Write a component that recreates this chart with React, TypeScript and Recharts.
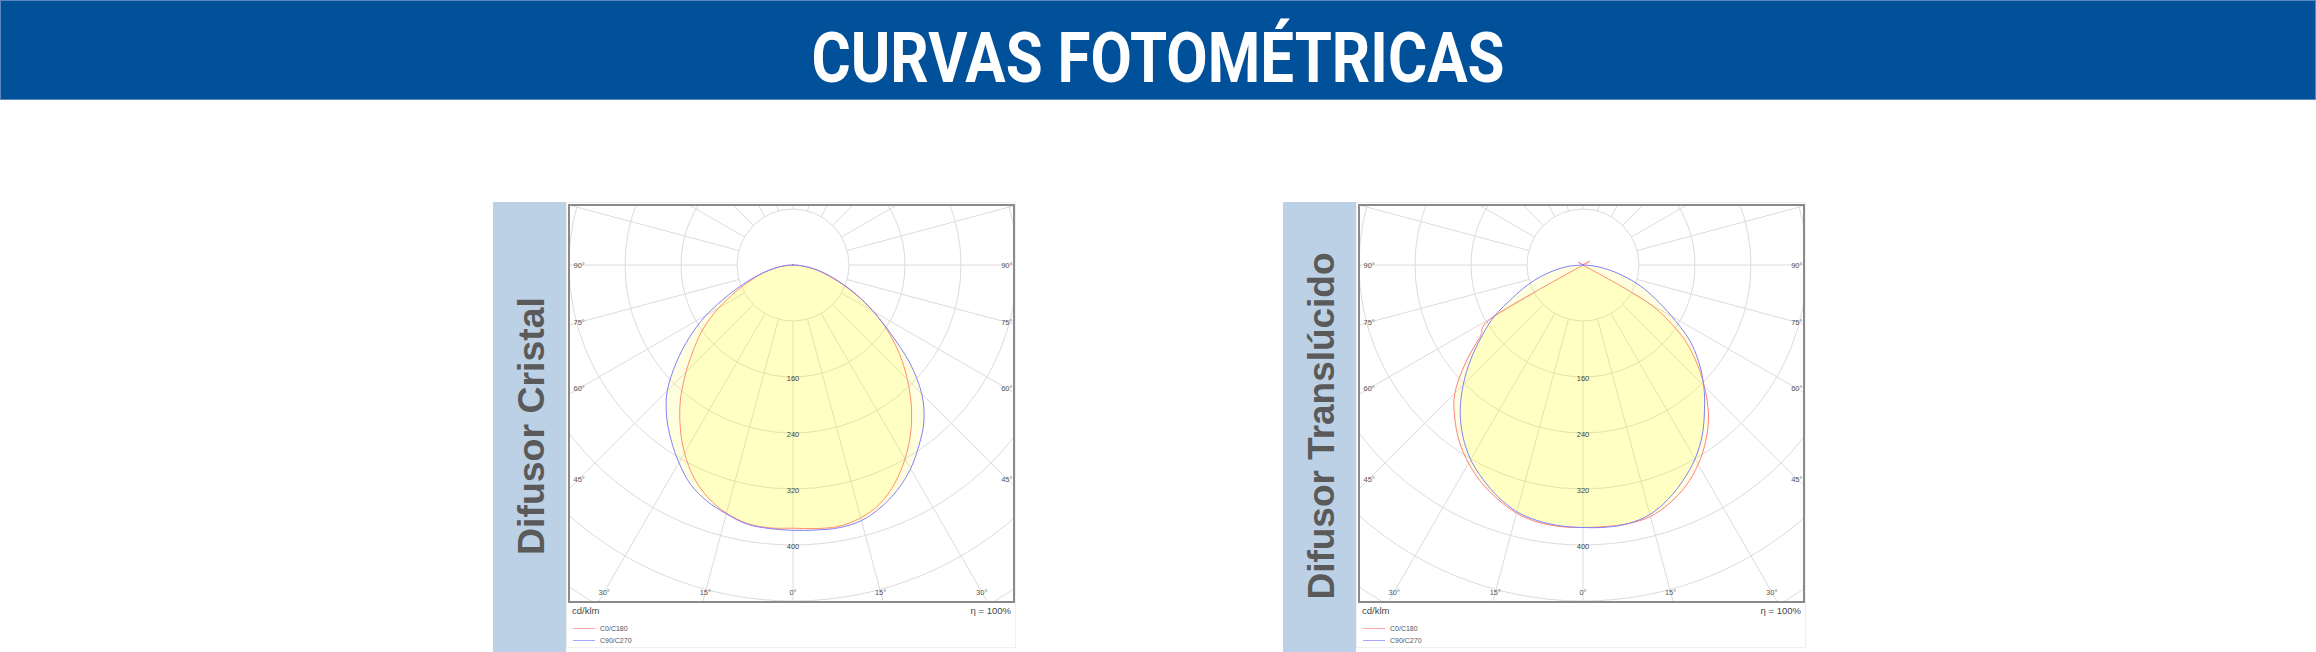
import { RadarChart, Radar, PolarGrid, PolarAngleAxis, PolarRadiusAxis } from "recharts";

// luminous intensity (cd/klm) per gamma angle, 5° steps from 0° (nadir) to 180°
const GAMMA = [
  0, 5, 10, 15, 20, 25, 30, 35, 40, 45, 50, 55, 60, 65, 70, 75, 80, 85, 90,
  95, 100, 105, 110, 115, 120, 125, 130, 135, 140, 145, 150, 155, 160, 165, 170, 175, 180,
];

// Difusor Cristal
const CRISTAL_C0 = [
  376, 378, 379, 374, 363, 344, 320, 293, 263, 231, 199, 166, 133, 98, 68, 45, 27, 12, 0,
  0, 0, 0, 0, 0, 0, 0, 0, 0, 0, 0, 0, 0, 0, 0, 0, 0, 0,
];
const CRISTAL_C180 = [
  376, 377, 375, 367, 354, 335, 310, 281, 250, 216, 184, 155, 122, 90, 64, 45, 27, 12, 0,
  0, 0, 0, 0, 0, 0, 0, 0, 0, 0, 0, 0, 0, 0, 0, 0, 0, 0,
];
const CRISTAL_C90 = [
  379, 380, 381, 378, 368, 354, 336, 314, 291, 260, 218, 170, 132, 100, 71, 49, 30, 13, 0,
  0, 0, 0, 0, 0, 0, 0, 0, 0, 0, 0, 0, 0, 0, 0, 0, 0, 0,
];
const CRISTAL_C270 = [
  379, 378, 376, 368, 359, 346, 326, 304, 281, 254, 218, 181, 143, 102, 70, 45, 27, 12, 0,
  0, 0, 0, 0, 0, 0, 0, 0, 0, 0, 0, 0, 0, 0, 0, 0, 0, 0,
];

// Difusor Translúcido
const TRANS_C0 = [
  375, 375, 375, 372, 362, 348, 329, 306, 279, 245, 209, 167, 105, 0, 0, 0, 0, 0, 0,
  0, 0, 0, 0, 0, 0, 0, 0, 0, 0, 0, 0, 0, 0, 0, 0, 0, 0,
];
const TRANS_C180 = [
  375, 375, 373, 367, 356, 343, 327, 308, 285, 259, 220, 180, 147, 0, 0, 0, 0, 0, 0,
  0, 0, 0, 0, 0, 0, 0, 0, 0, 0, 0, 0, 0, 0, 0, 0, 0, 0,
];
const TRANS_C90 = [
  375, 376, 375, 369, 356, 339, 320, 297, 270, 244, 216, 185, 146, 114, 87, 59, 35, 14, 0,
  0, 0, 0, 0, 0, 0, 0, 0, 0, 0, 0, 0, 0, 0, 0, 0, 0, 0,
];
const TRANS_C270 = [
  375, 374, 371, 365, 353, 338, 321, 299, 273, 242, 209, 176, 146, 111, 85, 61, 39, 20, 0,
  0, 0, 0, 0, 0, 0, 0, 0, 0, 0, 0, 0, 0, 0, 0, 0, 0, 0,
];

// grid: spokes every 15°, circles every 80 cd/klm
const GRID_ANGLES = [0, 15, 30, 45, 60, 75, 90, 105, 120, 135, 150, 165, 180, 195, 210, 225, 240, 255, 270, 285, 300, 315, 330, 345];
const GRID_RADII = [80, 160, 240, 320, 400, 480, 560, 640];
const RADIUS_LABELS = [160, 240, 320, 400];

const SERIES = [
  { key: "red", name: "C0/C180", color: "#ff7f7f" },
  { key: "blue", name: "C90/C270", color: "#8080ff" },
];

const PX_PER_CD = 0.7;
const R_MAX = 640;
const SIZE = 1000;
const CX = 500;
const CY = 500;
const FONT = '"Liberation Sans", Arial, sans-serif';

const GRID_ROWS = GRID_ANGLES.map((a) => ({ pos: a }));

// rows run clockwise on screen: from nadir up the left half (C180 / C270),
// then from the top back down the right half (C0 / C90)
const buildRows = (c0: number[], c180: number[], c90: number[], c270: number[]) => {
  const left = GAMMA.map((g, i) => ({ pos: g, red: c180[i], blue: c270[i] }));
  const right = [];
  for (let i = GAMMA.length - 2; i >= 1; i--) {
    right.push({ pos: 360 - GAMMA[i], red: c0[i], blue: c90[i] });
  }
  return [...left, ...right];
};

// closed catmull-rom through the radar points, so the curve is drawn smooth
const SmoothRadarShape = (props: any) => {
  const pts: Array<{ x: number; y: number }> = props.points || [];
  const n = pts.length;
  if (!n) return <g />;
  const p = (i: number) => pts[(i + n) % n];
  let d = `M${p(0).x},${p(0).y}`;
  for (let i = 0; i < n; i++) {
    const p0 = p(i - 1);
    const p1 = p(i);
    const p2 = p(i + 1);
    const p3 = p(i + 2);
    const c1x = p1.x + (p2.x - p0.x) / 6;
    const c1y = p1.y + (p2.y - p0.y) / 6;
    const c2x = p2.x - (p3.x - p1.x) / 6;
    const c2y = p2.y - (p3.y - p1.y) / 6;
    d += `C${c1x},${c1y},${c2x},${c2y},${p2.x},${p2.y}`;
  }
  d += "Z";
  return (
    <path
      d={d}
      stroke={props.stroke}
      strokeWidth={props.strokeWidth}
      fill={props.fill}
      fillOpacity={props.fillOpacity}
      strokeLinejoin="round"
    />
  );
};

const AngleTick = (props: any) => {
  const a = Number(props.payload?.value);
  const gamma = a <= 180 ? a : 360 - a;
  if (gamma > 90) return <g />;
  const side = a === 0 ? 0 : a < 180 ? -1 : 1;
  const rad = (gamma * Math.PI) / 180;
  let x: number;
  let y: number;
  let anchor: "start" | "middle" | "end";
  if (gamma <= 30) {
    x = CX + side * 327 * Math.tan(rad);
    y = CY + 327;
    anchor = "middle";
  } else {
    y = CY + (gamma === 90 ? 0 : 214 / Math.tan(rad));
    x = CX + side * 219.5;
    anchor = side > 0 ? "end" : "start";
  }
  return (
    <text x={x} y={y} textAnchor={anchor} dominantBaseline="central" fontSize={7.5} fill="#555" fontFamily={FONT}>
      {`${gamma}°`}
    </text>
  );
};

const RadiusTick = (props: any) => {
  const v = Number(props.payload?.value);
  if (!RADIUS_LABELS.includes(v)) return <g />;
  return (
    <text x={props.x} y={props.y + 1} textAnchor="middle" dominantBaseline="central" fontSize={7.5} fill="#444" fontFamily={FONT}>
      {v}
    </text>
  );
};

type PanelProps = {
  left: number;
  title: string;
  titleLength: number;
  rows: Array<{ pos: number; red: number; blue: number }>;
};

const PhotometricPanel = ({ left, title, titleLength, rows }: PanelProps) => {
  const boxLeft = left + 75;
  const chartPos = { position: "absolute" as const, left: 222.5 - CX, top: 59 - CY };
  return (
    <>
      {/* card outline */}
      <div
        style={{
          position: "absolute",
          left: left + 73,
          top: 202,
          width: 450,
          height: 446,
          border: "1px solid #f0f0f0",
          boxSizing: "border-box",
        }}
      />
      <div style={{ position: "absolute", left, top: 202, width: 73, height: 450, background: "#bcd1e5" }}>
        <svg width={73} height={450}>
          <text
            transform="translate(51, 224) rotate(-90)"
            textAnchor="middle"
            fontFamily={FONT}
            fontWeight="bold"
            fontSize={37}
            fill="#5a5a5a"
            textLength={titleLength}
            lengthAdjust="spacingAndGlyphs"
          >
            {title}
          </text>
        </svg>
      </div>
      <div
        style={{
          position: "absolute",
          left: boxLeft,
          top: 204,
          width: 447,
          height: 399,
          border: "2px solid #8a8a8a",
          boxSizing: "border-box",
          overflow: "hidden",
          background: "#fff",
        }}
      >
        <div style={chartPos}>
          <RadarChart
            width={SIZE}
            height={SIZE}
            data={GRID_ROWS}
            cx={CX}
            cy={CY}
            innerRadius={GRID_RADII[0] * PX_PER_CD}
            outerRadius={R_MAX * PX_PER_CD}
            startAngle={270}
            endAngle={-90}
            margin={{ top: 0, right: 0, bottom: 0, left: 0 }}
          >
            <PolarGrid
              gridType="circle"
              stroke="#dcdcdc"
              strokeWidth={1}
              cx={CX}
              cy={CY}
              innerRadius={GRID_RADII[0] * PX_PER_CD}
              outerRadius={R_MAX * PX_PER_CD}
              polarAngles={GRID_ANGLES}
              polarRadius={GRID_RADII.map((v) => v * PX_PER_CD)}
            />
            <PolarAngleAxis dataKey="pos" tick={AngleTick} axisLine={false} tickLine={false} />
            <PolarRadiusAxis
              domain={[GRID_RADII[0], R_MAX]}
              ticks={GRID_RADII}
              tickCount={8}
              tick={false}
              axisLine={false}
              tickLine={false}
            />
          </RadarChart>
        </div>
        <div style={chartPos}>
          <RadarChart
            width={SIZE}
            height={SIZE}
            data={rows}
            cx={CX}
            cy={CY}
            innerRadius={0}
            outerRadius={R_MAX * PX_PER_CD}
            startAngle={270}
            endAngle={-90}
            margin={{ top: 0, right: 0, bottom: 0, left: 0 }}
          >
            <PolarAngleAxis dataKey="pos" tick={false} axisLine={false} tickLine={false} />
            {SERIES.map((s) => (
              <Radar
                key={s.key}
                dataKey={s.key}
                name={s.name}
                stroke={s.color}
                strokeWidth={1}
                fill="#ffff00"
                fillOpacity={0.12}
                dot={false}
                shape={SmoothRadarShape}
                isAnimationActive={false}
              />
            ))}
            <PolarRadiusAxis
              domain={[0, R_MAX]}
              angle={-90}
              tickCount={9}
              tick={RadiusTick}
              axisLine={false}
              tickLine={false}
            />
          </RadarChart>
        </div>
      </div>
      <div
        style={{
          position: "absolute",
          left: boxLeft + 4,
          top: 604,
          width: 439,
          fontFamily: FONT,
          fontSize: 9.5,
          lineHeight: "13px",
          color: "#444",
          display: "flex",
          justifyContent: "space-between",
        }}
      >
        <span>cd/klm</span>
        <span>η = 100%</span>
      </div>
      {SERIES.map((s, i) => (
        <div
          key={s.key}
          style={{
            position: "absolute",
            left: boxLeft + 5,
            top: 622 + i * 12.3,
            height: 12,
            display: "flex",
            alignItems: "center",
            fontFamily: FONT,
            fontSize: 7,
            color: "#555",
          }}
        >
          <span style={{ display: "inline-block", width: 22, height: 1, background: s.color, opacity: 0.7, marginRight: 5 }} />
          {s.name}
        </div>
      ))}
    </>
  );
};

const CRISTAL_ROWS = buildRows(CRISTAL_C0, CRISTAL_C180, CRISTAL_C90, CRISTAL_C270);
const TRANS_ROWS = buildRows(TRANS_C0, TRANS_C180, TRANS_C90, TRANS_C270);

export default function App() {
  return (
    <div style={{ position: "absolute", left: 0, top: 0, width: 2316, height: 652, background: "#fff", overflow: "hidden" }}>
      <div
        style={{
          position: "absolute",
          left: 0,
          top: 0,
          width: 2316,
          height: 100,
          background: "#00509a",
          border: "1px solid #5d88bd",
          boxSizing: "border-box",
        }}
      >
        <svg width={2314} height={98} style={{ position: "absolute", left: 0, top: 0 }}>
          <text
            x={1157}
            y={81}
            textAnchor="middle"
            fontFamily="Roboto, sans-serif"
            fontWeight="bold"
            fontSize={70}
            fill="#ffffff"
            textLength={693}
            lengthAdjust="spacingAndGlyphs"
          >
            CURVAS FOTOMÉTRICAS
          </text>
        </svg>
      </div>
      <PhotometricPanel left={493} title="Difusor Cristal" titleLength={258} rows={CRISTAL_ROWS} />
      <PhotometricPanel left={1283} title="Difusor Translúcido" titleLength={347} rows={TRANS_ROWS} />
    </div>
  );
}
